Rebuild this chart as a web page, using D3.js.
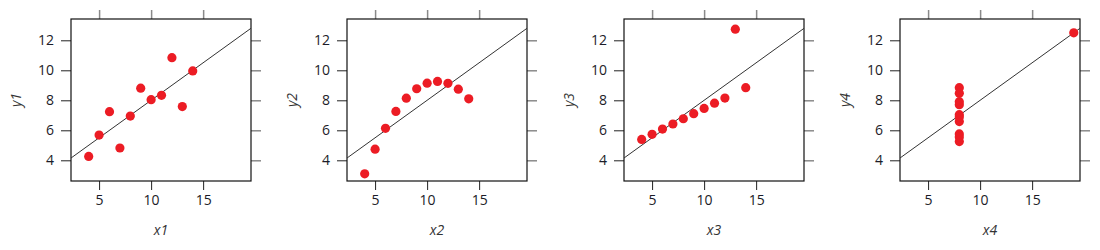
<!DOCTYPE html>
<html lang="en">
<head>
  <meta charset="UTF-8">
  <title>Anscombe quartet</title>
  <script src="https://cdn.jsdelivr.net/npm/d3@7"></script>
  <style>
    html, body { margin: 0; padding: 0; background: #fff; }
    svg { display: block; font-family: "Open Sans", sans-serif; }
  </style>
</head>
<body>
  <svg id="chart" width="1100" height="250"></svg>
  <script>
    // Anscombe's quartet
    const x123 = [10, 8, 13, 9, 11, 14, 6, 4, 12, 7, 5];
    const y1 = [8.04, 6.95, 7.58, 8.81, 8.33, 9.96, 7.24, 4.26, 10.84, 4.82, 5.68];
    const y2 = [9.14, 8.14, 8.74, 8.77, 9.26, 8.10, 6.13, 3.10, 9.13, 7.26, 4.74];
    const y3 = [7.46, 6.77, 12.74, 7.11, 7.81, 8.84, 6.08, 5.39, 8.15, 6.42, 5.73];
    const x4 = [8, 8, 8, 8, 8, 8, 8, 19, 8, 8, 8];
    const y4 = [6.58, 5.76, 7.71, 8.84, 8.47, 7.04, 5.25, 12.50, 5.56, 7.91, 6.89];

    const xTicks = [5, 10, 15];
    const yTicks = [4, 6, 8, 10, 12];

    const panels = [
      {xs: x123, ys: y1, xl: 'x1', yl: 'y1'},
      {xs: x123, ys: y2, xl: 'x2', yl: 'y2'},
      {xs: x123, ys: y3, xl: 'x3', yl: 'y3'},
      {xs: x4, ys: y4, xl: 'x4', yl: 'y4'}
    ];

    const svg = d3.select('#chart');
    const W = 180, H = 162, panelTop = 19;
    const lefts = [71, 347, 624, 900];

    const x = d3.scaleLinear().domain([2.3, 19.6]).range([0, W]);
    const y = d3.scaleLinear().domain([2.62, 13.42]).range([H, 0]);

    // least squares fit
    function fit(xs, ys) {
      const mx = d3.mean(xs), my = d3.mean(ys);
      let sxy = 0, sxx = 0;
      xs.forEach((v, i) => { sxy += (v - mx) * (ys[i] - my); sxx += (v - mx) * (v - mx); });
      const b = sxy / sxx;
      return [my - b * mx, b];
    }

    panels.forEach((p, k) => {
      const g = svg.append('g').attr('transform', `translate(${lefts[k]},${panelTop})`);

      g.append('clipPath').attr('id', 'clip' + k)
        .append('rect').attr('width', W).attr('height', H);

      // ticks: left/bottom black with labels, top/right grey
      const bottom = g.append('g').attr('transform', `translate(0,${H})`)
        .call(d3.axisBottom(x).tickValues(xTicks).tickSize(9).tickPadding(5));
      const left = g.append('g')
        .call(d3.axisLeft(y).tickValues(yTicks).tickSize(10).tickPadding(7));
      const topAx = g.append('g')
        .call(d3.axisTop(x).tickValues(xTicks).tickSize(9).tickFormat(''));
      const right = g.append('g').attr('transform', `translate(${W},0)`)
        .call(d3.axisRight(y).tickValues(yTicks).tickSize(10).tickFormat(''));

      [bottom, left, topAx, right].forEach(a => a.select('.domain').remove());
      [bottom, left].forEach(a => {
        a.selectAll('line').attr('stroke', '#222');
        a.selectAll('text').attr('fill', '#1c1c28').style('font-size', '14px')
          .style('font-family', '"Open Sans", sans-serif');
      });
      [topAx, right].forEach(a => a.selectAll('line').attr('stroke', '#8a8a8a').attr('stroke-width', 1.5));

      g.append('rect').attr('width', W).attr('height', H)
        .attr('fill', 'none').attr('stroke', '#111').attr('stroke-width', 1.2);

      const [a, b] = fit(p.xs, p.ys);
      const [d0, d1] = x.domain();
      g.append('line')
        .attr('clip-path', `url(#clip${k})`)
        .attr('x1', x(d0)).attr('y1', y(a + b * d0))
        .attr('x2', x(d1)).attr('y2', y(a + b * d1))
        .attr('stroke', '#333').attr('stroke-width', 1);

      g.selectAll('circle.pt').data(p.xs.map((v, i) => [v, p.ys[i]]))
        .enter().append('circle').attr('class', 'pt')
        .attr('cx', d => x(d[0])).attr('cy', d => y(d[1]))
        .attr('r', 4.6).attr('fill', '#ec1c24');

      g.append('text')
        .attr('x', W / 2).attr('y', H + 54)
        .attr('text-anchor', 'middle')
        .style('font-size', '14px').style('font-style', 'italic')
        .attr('fill', '#333')
        .text(p.xl);

      g.append('text')
        .attr('transform', `translate(-50,${H / 2}) rotate(-90)`)
        .attr('text-anchor', 'middle')
        .style('font-size', '14px').style('font-style', 'italic')
        .attr('fill', '#333')
        .text(p.yl);
    });
  </script>
</body>
</html>
